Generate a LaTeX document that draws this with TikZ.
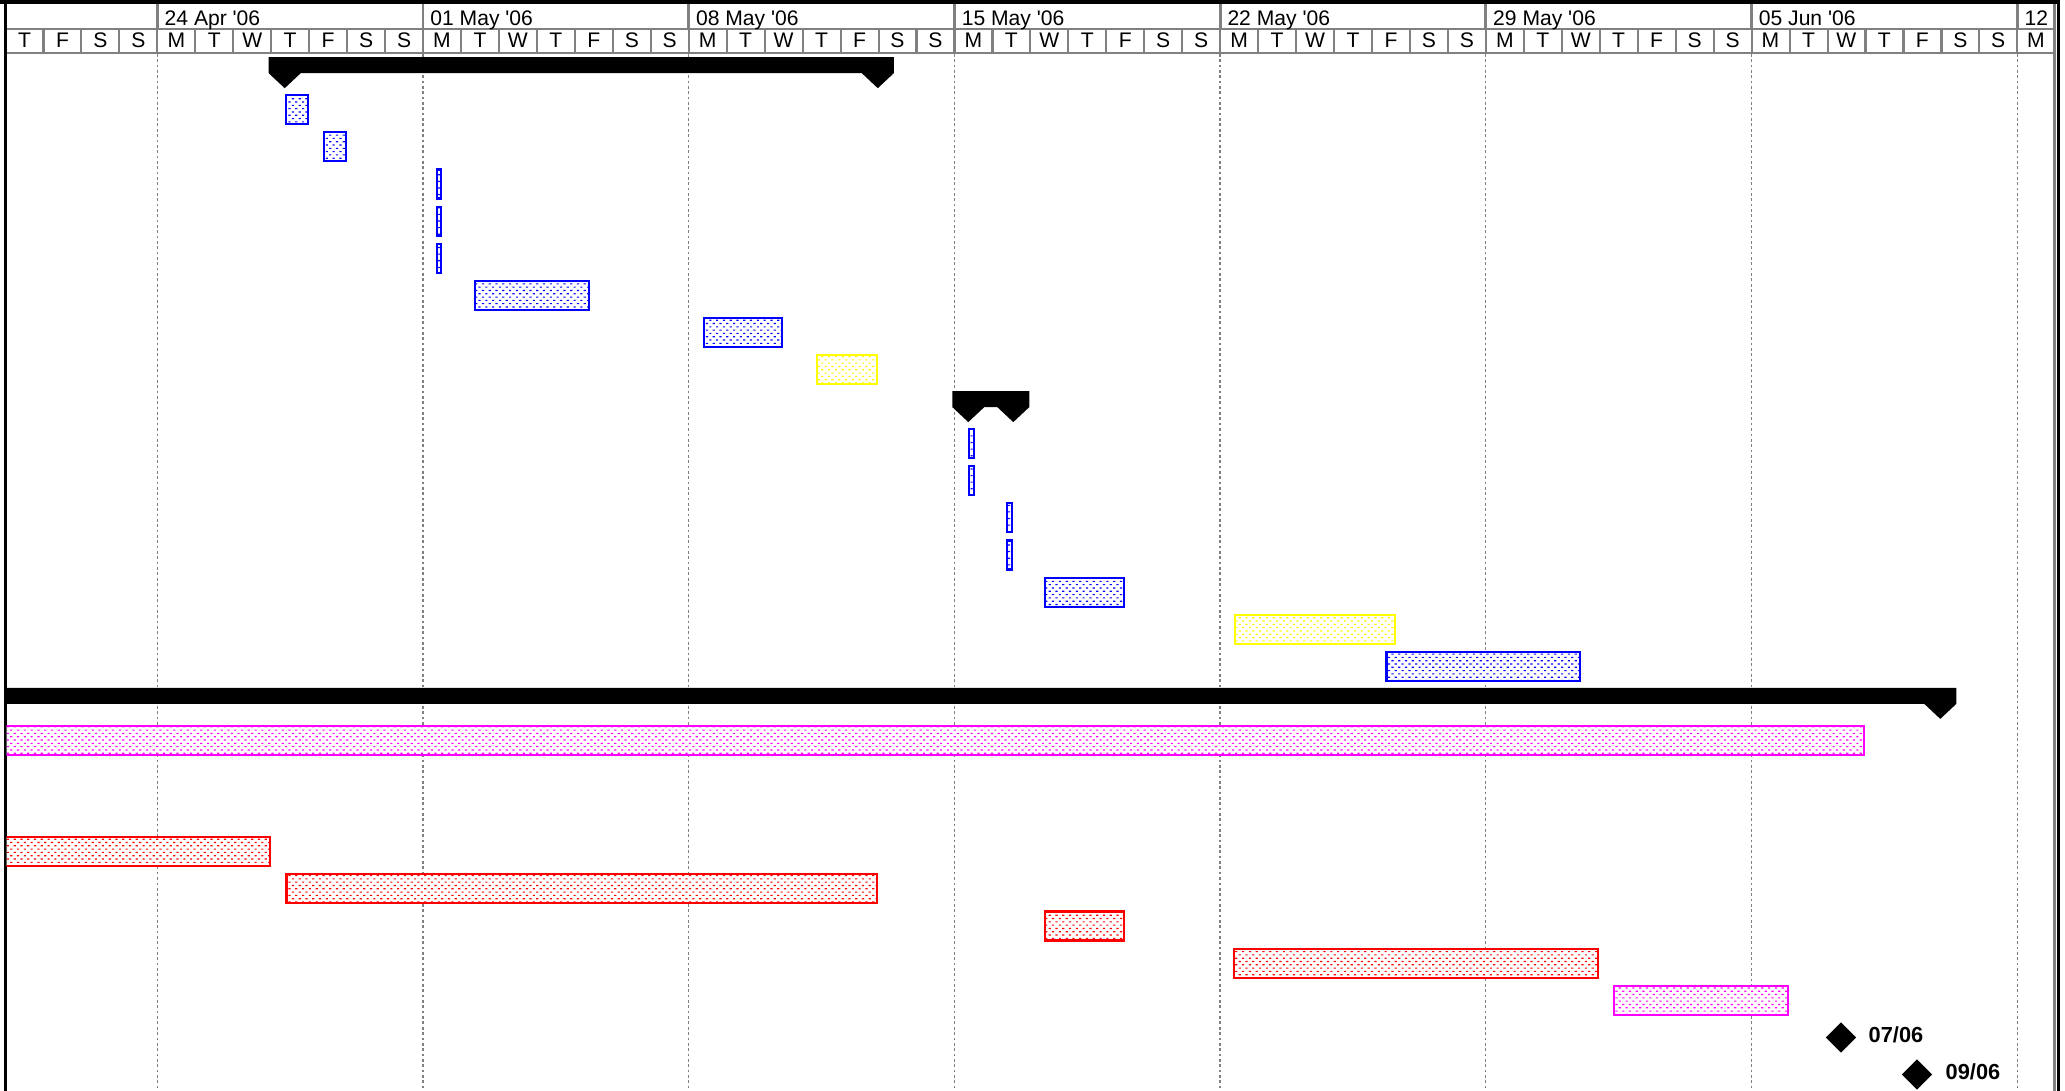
\documentclass[tikz,border=0pt]{standalone}
\usepackage{fontspec}
\setmainfont{Liberation Sans}[Ligatures=TeXOff]
\usetikzlibrary{patterns, shapes.geometric}

\definecolor{barblue}{RGB}{0,0,255}
\definecolor{baryellow}{RGB}{255,255,0}
\definecolor{barmagenta}{RGB}{255,0,255}
\definecolor{barred}{RGB}{255,0,0}

% dotted fill of the task bars
\pgfdeclarepatternformonly{ganttdots}{\pgfqpoint{-0.1pt}{-0.1pt}}{\pgfqpoint{2.03pt}{1.98pt}}{\pgfqpoint{1.93pt}{1.88pt}}{%
  \pgfpathrectangle{\pgfqpoint{0pt}{0pt}}{\pgfqpoint{0.62pt}{0.32pt}}%
  \pgfpathrectangle{\pgfqpoint{0.965pt}{0.94pt}}{\pgfqpoint{0.62pt}{0.32pt}}%
  \pgfusepath{fill}}

% summary bar: start cap centre, end cap centre, top
\newcommand{\sumbar}[3]{%
  \fill[black] (#1-16,#3) -- (#2+16,#3) -- (#2+16,#3+16) -- (#2,#3+31)
    -- (#2-16,#3+16) -- (#1+16,#3+16) -- (#1,#3+31) -- (#1-16,#3+16) -- cycle;}

\begin{document}
\begin{tikzpicture}[x=0.01cm, y=-0.01cm,
    hdr/.style={draw=gray, line width=0.6pt},
    weekline/.style={draw=gray, line width=0.37pt, dash pattern=on 0.76pt off 0.76pt},
    task/.style={draw=#1, line width=0.6pt, preaction={fill=white}, pattern=ganttdots, pattern color=#1},
    monthlbl/.style={anchor=base west, inner sep=0pt, font=\fontsize{6pt}{7pt}\selectfont},
    daylbl/.style={anchor=base, inner sep=0pt, font=\fontsize{6pt}{7pt}\selectfont},
    milestone/.style={diamond, fill=black, inner sep=0pt, minimum width=0.31cm, minimum height=0.31cm},
    mslbl/.style={anchor=base west, inner sep=0pt, font=\fontsize{6.2pt}{7.5pt}\selectfont\bfseries}]
  \useasboundingbox (0,0) rectangle (2065,1091);

  % week lines in the chart
  \foreach \w in {0,...,7}
    \draw[weekline] (157.3+265.7*\w,54) -- (157.3+265.7*\w,1091);

  % timescale header
  \foreach \w in {0,...,7}
    \draw[hdr, line width=0.8pt] (157.3+265.7*\w,4) -- (157.3+265.7*\w,29.3);
  \foreach \d in {1,...,53}
    \draw[hdr] (5.5+37.96*\d,29.3) -- (5.5+37.96*\d,53);
  \draw[hdr] (5.5,29.3) -- (2055,29.3);
  \draw[hdr, line width=0.7pt] (5.5,53) -- (2055,53);

  \foreach \w/\txt in {0/24 Apr '06, 1/01 May '06, 2/08 May '06, 3/15 May '06,
                       4/22 May '06, 5/29 May '06, 6/05 Jun '06, 7/12}
    \node[monthlbl] (wk\w) at (164+265.7*\w,26) {\txt};

  \foreach \ltr [count=\d from 0] in {T,F,S,S}
    \node[daylbl] (pre\d) at (24.5+37.96*\d,47.7) {\ltr};
  \foreach \w in {0,...,6}
    \foreach \ltr [count=\d from 0] in {M,T,W,T,F,S,S}
      \node[daylbl] (day\w-\d) at (176.3+265.7*\w+37.96*\d,47.7) {\ltr};
  \node[daylbl] (day7-0) at (2036,47.7) {M};

  % frame
  \fill[black] (0,0) rectangle (2060,4.5);
  \fill[black] (3.5,0) rectangle (6.5,1091);
  \draw[gray, line width=0.8pt] (2054.5,4.5) -- (2054.5,1091);
  \fill[black] (2057,0) rectangle (2060,1091);

  \begin{scope}
    \clip (6.5,54) rectangle (2053,1091);
    % task bars: row/start/end/colour
    \foreach \row/\xa/\xb/\col in {
        2/285/309.3/barblue, 3/322.7/347/barblue,
        4/436.3/441.7/barblue, 5/436.3/441.7/barblue, 6/436.3/441.7/barblue,
        7/474.3/590/barblue, 8/703/783.3/barblue, 9/816.3/878.3/baryellow,
        11/968.3/975.3/barblue, 12/968.3/975.3/barblue,
        13/1006/1013.3/barblue, 14/1006/1013.3/barblue,
        15/1044.2/1125.2/barblue, 16/1233.9/1396.2/baryellow, 17/1385.5/1581/barblue,
        19/-20/1865/barmagenta,
        22/-20/271/barred, 23/285.5/878.4/barred, 24/1044.3/1125.2/barred,
        25/1233.3/1599.2/barred, 26/1613.1/1789.3/barmagenta}
      \draw[task=\col] (\xa+1,21.1+37.1*\row) rectangle (\xb-1,50.1+37.1*\row);

    % summary bars
    \sumbar{284.7}{877.8}{57.2}
    \sumbar{968.3}{1013.3}{391.1}
    \sumbar{-100}{1940.3}{687.9}
  \end{scope}

  % milestones
  \node[milestone] (ms1) at (1841,1037.5) {};
  \node[mslbl] (ms1lbl) at (1868,1042.7) {07/06};
  \node[milestone] (ms2) at (1917,1074.5) {};
  \node[mslbl] (ms2lbl) at (1945,1079.3) {09/06};
\end{tikzpicture}
\end{document}
